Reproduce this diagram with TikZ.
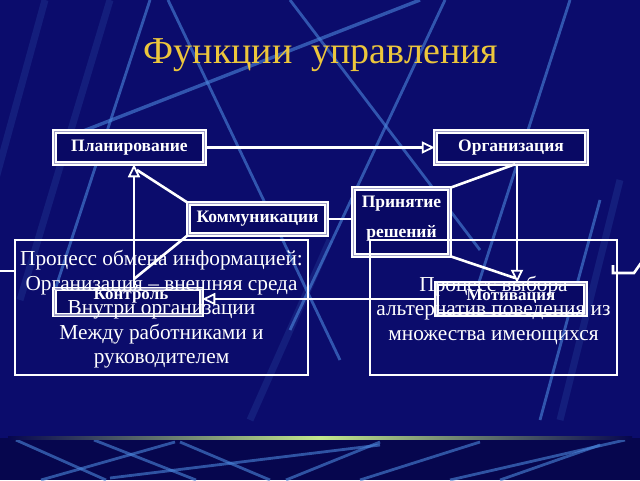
\documentclass[tikz,border=0pt]{standalone}
\usepackage{fontspec}
\setmainfont{Liberation Serif}
\usetikzlibrary{arrows.meta}
\definecolor{bgblue}{RGB}{11,12,108}
\definecolor{bgdark}{RGB}{6,6,78}
\definecolor{streakc}{RGB}{75,135,220}
\definecolor{titlegold}{RGB}{236,198,60}
\definecolor{boxfill}{RGB}{9,9,100}
\definecolor{innerline}{RGB}{160,160,200}
\definecolor{glow}{RGB}{195,232,140}
\tikzset{
  fnbox/.style={draw=white, double=innerline, double distance=1.1pt, line width=1.5pt,
    fill=boxfill, inner sep=0pt, text=white,
    font=\bfseries\fontsize{17.5}{18}\selectfont},
  lbl/.style={text=white, font=\bfseries\fontsize{17}{18}\selectfont},
  bigbox/.style={draw=white, line width=2.4pt, inner sep=0pt},
  bigtext/.style={text=white, align=center, inner sep=0pt,
    font=\fontsize{21.3}{24.5}\selectfont},
  conn/.style={draw=white, line width=2.6pt},
  arr/.style={conn, -{Triangle[open,length=13pt,width=12pt,line width=1.8pt]}},
  streak/.style={draw=streakc, line width=2.8pt, opacity=0.6},
  faint/.style={draw=streakc, line width=7pt, opacity=0.15}
}
\begin{document}
\begin{tikzpicture}[x=1pt,y=-1pt]
\useasboundingbox (0,0) rectangle (640,480);
% background
\fill[bgblue] (0,0) rectangle (640,438);
\fill[bgdark] (0,438) rectangle (640,480);
\begin{scope}
\clip (0,0) rectangle (640,436);
\draw[faint] (45,0) -- (-10,200);
\draw[faint] (110,0) -- (20,300);
\draw[faint] (330,240) -- (250,420);
\draw[faint] (620,180) -- (560,420);
\draw[streak] (150,0) -- (55,290);
\draw[streak] (168,0) -- (340,360);
\draw[streak, line width=3.4pt] (60,140) -- (420,0);
\draw[streak] (290,0) -- (480,250);
\draw[streak] (445,0) -- (290,330);
\draw[streak] (570,0) -- (470,310);
\draw[streak] (600,200) -- (540,420);
\end{scope}
\begin{scope}
\clip (0,440) rectangle (640,480);
\draw[streak] (16,440) -- (106,480);
\draw[streak] (94,440) -- (196,480);
\draw[streak] (175,442) -- (41,480);
\draw[streak] (180,442) -- (270,480);
\draw[streak] (380,442) -- (286,480);
\draw[streak] (110,478) -- (380,445);
\draw[streak] (360,480) -- (480,442);
\draw[streak] (450,480) -- (625,440);
\draw[streak] (500,480) -- (600,445);
\end{scope}
\shade[left color=bgdark, right color=bgdark, middle color=glow] (8,436.5) rectangle (632,439.5);
% title
\node[text=titlegold, font=\fontsize{38}{42}\selectfont, anchor=base] (title) at (321,63) {Функции\ \ управления};
% function boxes
\node[fnbox, minimum width=150pt, minimum height=32pt] (plan) at (129.5,147.5) {Планирование};
\node[fnbox, minimum width=151pt, minimum height=32pt] (org) at (511,147.5) {Организация};
\node[fnbox, minimum width=138pt, minimum height=31pt] (komm) at (257.5,219) {Коммуникации};
\node[fnbox, minimum width=96pt, minimum height=67pt] (prin) at (401.5,222) {};
\node[lbl, font=\bfseries\fontsize{17.5}{18}\selectfont] (prin1) at (401.5,204) {Принятие};
\node[lbl, font=\bfseries\fontsize{17.5}{18}\selectfont] (prin2) at (401.5,233) {решений};
\node[fnbox, minimum width=147pt, minimum height=26pt] (kont) at (128,302) {};
\node[lbl] (kontl) at (131,296) {Контроль};
\node[fnbox, minimum width=149pt, minimum height=31pt] (motiv) at (511,299) {};
\node[lbl] (motivl) at (511,296) {Мотивация};
% connectors
\coordinate (upx) at (134,0);
\coordinate (dnx) at (517,0);
\coordinate (tipA) at (137,170);
\coordinate (kjoin) at (134,279);
\coordinate (tipB) at (515,278);
\draw[arr] (plan.east) -- (org.west);
\draw[arr] (kont.north -| upx) -- (plan.south -| upx);
\draw[conn] (komm.north west) -- (tipA);
\draw[conn] (komm.south west) -- (kjoin);
\draw[conn] (komm.east) -- (komm.east -| prin.west);
\draw[conn] (org.south -| dnx) ++(-2,0) -- (prin.north east);
\draw[arr] (org.south -| dnx) -- (motiv.north -| dnx);
\draw[conn] (prin.south east) -- (tipB);
\draw[arr] (motiv.west) -- (motiv.west -| kont.east);
% explanation boxes
\node[bigbox, minimum width=293pt, minimum height=135pt] (leftbox) at (161.5,307.5) {};
\node[bigtext] (lefttext) at (161.5,309.5)
  {Процесс обмена информацией:\\Организация – внешняя среда\\Внутри организации\\Между работниками и\\руководителем};
\node[bigbox, minimum width=247pt, minimum height=135pt] (rightbox) at (493.5,307.5) {};
\node[bigtext] (righttext) at (493.5,310.5)
  {Процесс выбора\\альтернатив поведения из\\множества имеющихся};
% edge stubs
\coordinate (lstub) at (0,271);
\draw[conn] (lstub) -- (lstub -| leftbox.west);
\coordinate (rs1) at (613,265);
\coordinate (rs2) at (613,273);
\coordinate (rs3) at (634,273);
\coordinate (rs4) at (641,263);
\draw[conn] (rs1) -- (rs2) -- (rs3) -- (rs4);
\end{tikzpicture}
\end{document}
